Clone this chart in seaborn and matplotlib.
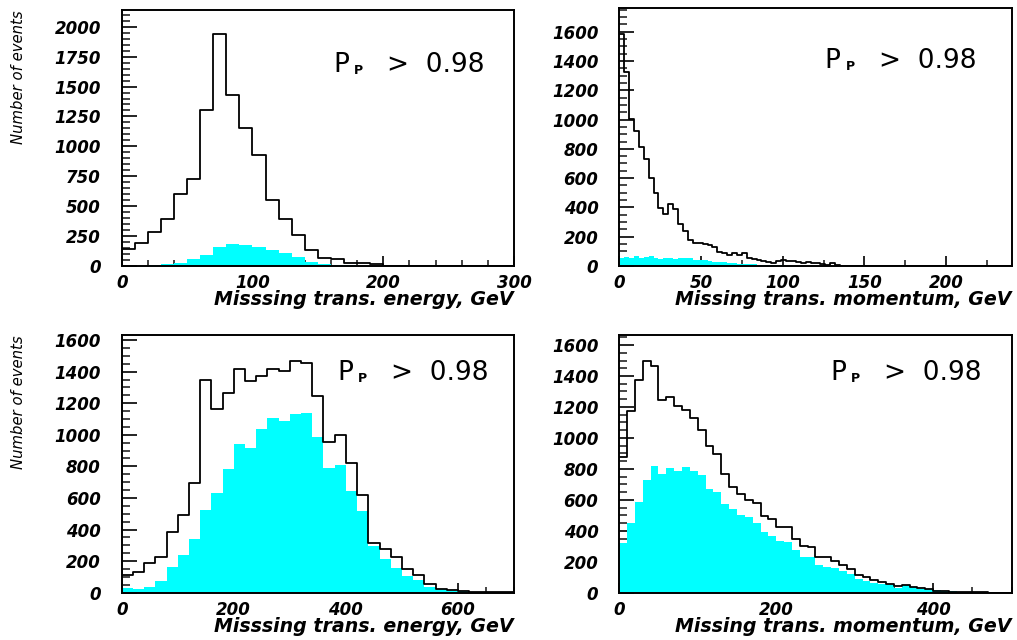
import numpy as np
import pandas as pd
import matplotlib
matplotlib.use("Agg")
import matplotlib.pyplot as plt
from matplotlib.ticker import MultipleLocator
from matplotlib.transforms import offset_copy
import seaborn as sns

sns.set_style("ticks")
plt.rcParams['font.family'] = ['DejaVu Sans']

# ---------------- data ----------------
# top-left: missing transverse energy, 10 GeV bins, 0-300
tl_all = [139, 192, 284, 396, 599, 730, 1307, 1936, 1429, 1153, 925, 552, 396, 262, 134,
          70, 62, 25, 25, 14, 3, 2, 1, 1, 0, 0, 0, 0, 0, 0]
tl_sel = [3, 4, 5, 17, 28, 58, 95, 156, 184, 173, 159, 134, 106, 72, 36,
          17, 11, 6, 4, 3, 2, 1, 1, 1, 1, 0, 0, 0, 0, 0]

# top-right: missing transverse momentum, 3 GeV bins, 0-240
tr_all = [1584, 1323, 1002, 920, 810, 733, 601, 496, 394, 355, 421, 387, 287, 237, 175,
          159, 155, 148, 141, 128, 96, 87, 73, 91, 73, 91, 55, 50, 41, 32,
          27, 23, 36, 41, 36, 32, 27, 23, 27, 18, 18, 14, 9, 18, 5,
          3, 3, 2, 2, 2, 1, 1, 1, 1] + [0] * 26
tr_sel = [57, 61, 57, 66, 57, 61, 66, 52, 48, 52, 52, 48, 57, 52, 52,
          43, 43, 39, 34, 30, 30, 25, 20, 20, 16, 16, 11, 11, 9, 7,
          5, 5, 4, 4, 3, 3, 2, 2, 2, 1, 1, 1] + [0] * 38

# bottom-left: missing transverse energy, 20 GeV bins, 0-700
bl_all = [112, 133, 190, 228, 382, 492, 697, 1347, 1161, 1262, 1414, 1340, 1372, 1414, 1404,
          1467, 1452, 1245, 952, 996, 823, 616, 312, 279, 228, 148, 110, 53, 21, 17,
          11, 6, 4, 2, 2]
bl_sel = [27, 21, 38, 72, 160, 236, 342, 521, 633, 781, 942, 916, 1034, 1104, 1085,
          1132, 1136, 984, 790, 806, 646, 519, 296, 211, 156, 106, 80, 38, 21, 13,
          8, 6, 3, 3, 3]

# bottom-right: missing transverse momentum, 10 GeV bins, 0-500
br_all = [874, 1174, 1374, 1499, 1464, 1245, 1262, 1206, 1180, 1126, 1051, 950, 896, 765, 683,
          638, 599, 581, 495, 474, 422, 422, 349, 302, 293, 233, 229, 207, 177, 151,
          116, 99, 82, 71, 56, 43, 52, 39, 30, 22, 13, 9, 6, 4, 3, 2, 2, 1, 1, 1]
br_sel = [319, 448, 588, 728, 818, 767, 805, 788, 810, 784, 758, 672, 650, 571, 543,
          504, 487, 448, 394, 366, 336, 329, 276, 233, 233, 179, 164, 160, 142, 120,
          86, 78, 65, 56, 48, 30, 48, 35, 26, 22, 15, 9, 9, 6, 4, 3, 2, 2, 1, 1]

tl_xticks = [0, 100, 200, 300]
tr_xticks = [0, 50, 100, 150, 200]
bl_xticks = [0, 200, 400, 600]
br_xticks = [0, 200, 400]
tl_yticks = [0, 250, 500, 750, 1000, 1250, 1500, 1750, 2000]
other_yticks = [0, 200, 400, 600, 800, 1000, 1200, 1400, 1600]

xlabel_energy = "Misssing trans. energy, GeV"
xlabel_momentum = "Missing trans. momentum, GeV"
ylabel_text = "Number of events"
cut_main = "P"
cut_sub = "P"
cut_rest = ">  0.98"

panels = [
    dict(pos=[0.1197, 0.5844, 0.3857, 0.400], rng=(0, 300), width=10, all=tl_all, sel=tl_sel,
         ylim=2140, xt=tl_xticks, xminor=20, yt=tl_yticks, yminor=50,
         xlabel=xlabel_energy, ylabel=True, txt=(0.539, 0.758)),
    dict(pos=[0.6089, 0.5844, 0.3858, 0.4027], rng=(0, 240), width=3, all=tr_all, sel=tr_sel,
         ylim=1760, xt=tr_xticks, xminor=25, yt=other_yticks, yminor=50,
         xlabel=xlabel_momentum, ylabel=False, txt=(0.524, 0.770)),
    dict(pos=[0.1197, 0.0739, 0.3857, 0.4027], rng=(0, 700), width=20, all=bl_all, sel=bl_sel,
         ylim=1632, xt=bl_xticks, xminor=50, yt=other_yticks, yminor=50,
         xlabel=xlabel_energy, ylabel=True, txt=(0.549, 0.825)),
    dict(pos=[0.6089, 0.0739, 0.3858, 0.4027], rng=(0, 500), width=10, all=br_all, sel=br_sel,
         ylim=1665, xt=br_xticks, xminor=50, yt=other_yticks, yminor=50,
         xlabel=xlabel_momentum, ylabel=False, txt=(0.537, 0.825)),
]

fig = plt.figure(figsize=(10.17, 6.4), dpi=100)
tick_font = dict(fontweight="bold", fontstyle="italic", fontsize=12, color="black")

for p in panels:
    ax = fig.add_axes(p["pos"])
    w = p["width"]
    centers = np.arange(p["rng"][0], p["rng"][1], w) + w / 2.0
    df = pd.DataFrame({"x": centers, "all": p["all"], "sel": p["sel"]})
    sns.histplot(data=df, x="x", weights="sel", binwidth=w, binrange=p["rng"],
                 element="step", fill=True, color="#00ffff", alpha=1, linewidth=0, ax=ax)
    sns.histplot(data=df, x="x", weights="all", binwidth=w, binrange=p["rng"],
                 element="step", fill=False, color="black", linewidth=1.3, ax=ax)
    ax.set_xlim(*p["rng"])
    ax.set_ylim(0, p["ylim"])
    ax.set_xticks(p["xt"])
    ax.set_xticklabels([str(v) for v in p["xt"]], **tick_font)
    ax.set_yticks(p["yt"])
    ax.set_yticklabels([str(v) for v in p["yt"]], **tick_font)
    ax.xaxis.set_minor_locator(MultipleLocator(p["xminor"]))
    ax.yaxis.set_minor_locator(MultipleLocator(p["yminor"]))
    ax.tick_params(axis="y", which="major", direction="in", length=11, width=1.2, pad=15, colors="black")
    ax.tick_params(axis="y", which="minor", direction="in", length=5.5, width=1.2)
    ax.tick_params(axis="x", which="major", direction="in", length=7.5, width=1.2, pad=6, colors="black")
    ax.tick_params(axis="x", which="minor", direction="in", length=4.5, width=1.2)
    for s in ax.spines.values():
        s.set_linewidth(1.4)
        s.set_color("black")
    ax.set_xlabel(p["xlabel"], fontweight="bold", fontstyle="italic", fontsize=13.7,
                  loc="right", color="black")
    ax.xaxis.set_label_coords(1.0, -0.095)
    ax.xaxis.label.set_va("top")
    if p["ylabel"]:
        ax.set_ylabel(ylabel_text, fontstyle="italic", fontsize=10.7, loc="top", color="black")
        ax.yaxis.set_label_coords(-0.243, 1.0)
    else:
        ax.set_ylabel("")
    x0, y0 = p["txt"]
    ax.text(x0, y0, cut_main, transform=ax.transAxes, fontsize=19,
            ha="left", va="baseline", color="black")
    ax.text(x0, y0, cut_sub, fontsize=9, fontweight="bold", ha="left", va="baseline",
            color="black", transform=offset_copy(ax.transAxes, fig=fig, x=15, y=-1.5, units="points"))
    ax.text(x0, y0, cut_rest, fontsize=19, ha="left", va="baseline", color="black",
            transform=offset_copy(ax.transAxes, fig=fig, x=39, y=0, units="points"))

fig.savefig("out.png", dpi=100)
